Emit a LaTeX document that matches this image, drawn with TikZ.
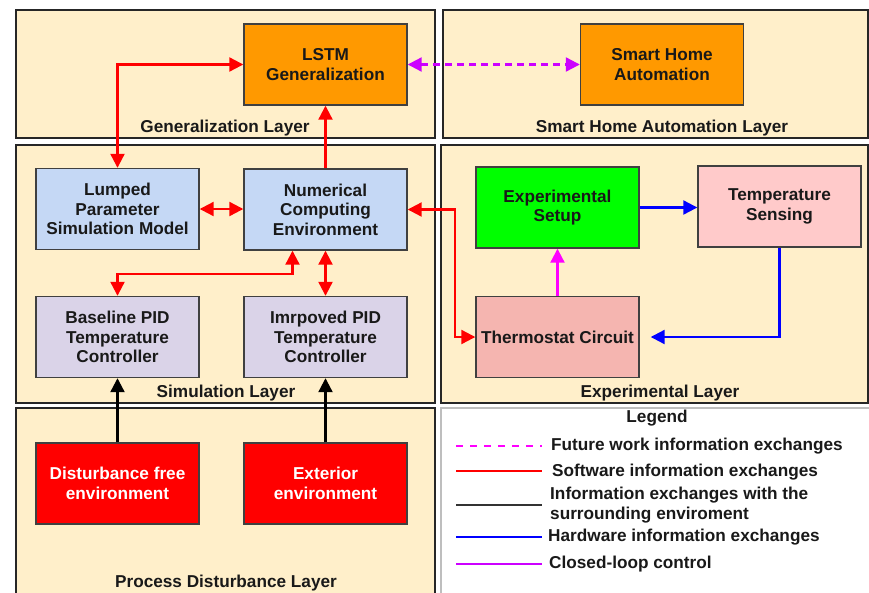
\documentclass[tikz,border=0pt]{standalone}
\usepackage{fontspec}
\setmainfont{Liberation Sans}
\usetikzlibrary{arrows.meta}

\definecolor{layerfill}{RGB}{255,239,202}
\definecolor{orangebox}{RGB}{255,153,0}
\definecolor{bluebox}{RGB}{197,216,245}
\definecolor{lilacbox}{RGB}{218,211,232}
\definecolor{greenbox}{RGB}{0,255,0}
\definecolor{pinkbox}{RGB}{255,202,202}
\definecolor{salmonbox}{RGB}{245,181,176}
\definecolor{redbox}{RGB}{255,0,0}
\definecolor{boxline}{RGB}{64,64,64}
\definecolor{violetline}{RGB}{204,0,255}
\definecolor{magentaline}{RGB}{255,0,255}
\definecolor{legendline}{RGB}{190,190,190}

\begin{document}
\begin{tikzpicture}[x=1pt,y=-1pt,
  txt/.style={font=\bfseries\fontsize{17.2}{19.5}\selectfont, text=black!90},
  layer/.style={draw=black!85, line width=1.8pt, fill=layerfill},
  blk/.style={txt, draw=boxline, line width=1.4pt, minimum width=163pt,
    minimum height=81pt, inner sep=0pt, align=center},
  tip/.style={arrows={-Triangle[length=14pt,width=14pt]}},
  biarrow/.style={arrows={Triangle[length=14pt,width=14pt]-Triangle[length=14pt,width=14pt]}},
  sw/.style={draw=red, line width=2.2pt},
  hw/.style={draw=blue, line width=2.2pt},
  env/.style={draw=black, line width=2.2pt},
  cl/.style={draw=magentaline, line width=2.2pt},
  fut/.style={draw=violetline, line width=2.2pt, dash pattern=on 7pt off 5pt},
  lab/.style={txt, inner sep=0pt},
]
\useasboundingbox (0,0) rectangle (869,592);
\clip (0,0) rectangle (869,592);
\fill[white] (0,0) rectangle (869,592);

% layer panels
\draw[layer] (16,10) rectangle (435,138);
\draw[layer] (443,10) rectangle (868,138);
\draw[layer] (16,145) rectangle (435,403);
\draw[layer] (441,145) rectangle (868,403);
\draw[layer] (16,408) rectangle (435,600);
\draw[draw=legendline, line width=1.2pt, fill=white] (441,408) rectangle (875,600);

% layer titles
\node[lab] (tgen) at (225,128) {Generalization Layer};
\node[lab] (tsha) at (662,128) {Smart Home Automation Layer};
\node[lab] (tsim) at (226,393) {Simulation Layer};
\node[lab] (texp) at (660,393) {Experimental Layer};
\node[lab] (tdis) at (226,583) {Process Disturbance Layer};
\node[lab] (tleg) at (657,418) {Legend};

% blocks
\node[blk, fill=orangebox] (lstm) at (325.5,64.5) {LSTM\\Generalization};
\node[blk, fill=orangebox] (smart) at (662,64.5) {Smart Home\\Automation};
\node[blk, fill=bluebox] (lumped) at (117.5,209) {Lumped\\Parameter\\Simulation Model};
\node[blk, fill=bluebox] (numer) at (325.5,209.5) {Numerical\\Computing\\Environment};
\node[blk, fill=lilacbox] (base) at (117.5,337) {Baseline PID\\Temperature\\Controller};
\node[blk, fill=lilacbox] (impr) at (325.5,337) {Imrpoved PID\\Temperature\\Controller};
\node[blk, fill=greenbox] (expset) at (557.5,207.5) {Experimental\\Setup};
\node[blk, fill=pinkbox] (tsense) at (779.5,206.5) {Temperature\\Sensing};
\node[blk, fill=salmonbox] (thermo) at (557.5,337) {Thermostat Circuit};
\node[blk, fill=redbox, text=white] (dfree) at (117.5,483.5) {Disturbance free\\environment};
\node[blk, fill=redbox, text=white] (ext) at (325.5,483.5) {Exterior\\environment};

% software links
\draw[sw, biarrow] (lumped.north) |- (lstm.west);
\draw[sw, tip] (numer.north) -- (lstm.south);
\draw[sw, biarrow] (lumped.east) -- (lumped.east -| numer.west);
\draw[sw, biarrow] ([xshift=-33pt]numer.south) -- ++(0,23) -| (base.north);
\draw[sw, biarrow] (numer.south) -- (impr.north);
\draw[sw, biarrow] (numer.east) -- ++(47,0) |- (thermo.west);

% future work link
\draw[fut, biarrow] (lstm.east) -- (smart.west);

% hardware links
\draw[hw, tip] (expset.east) -- (expset.east -| tsense.west);
\coordinate (thin) at ([xshift=11pt]thermo.east);
\draw[hw, tip] (tsense.south) |- (thin);

% closed loop
\draw[cl, tip] (thermo.north) -- (expset.south);

% surroundings
\draw[env, tip] (dfree.north) -- (base.south);
\draw[env, tip] (ext.north) -- (impr.south);

% legend
\draw[draw=magentaline, line width=2pt, dash pattern=on 7pt off 7pt] (456,446) -- (542,446);
\draw[draw=red, line width=2pt] (456,471) -- (542,471);
\draw[draw=black!80, line width=2pt] (456,505) -- (542,505);
\draw[draw=blue, line width=2pt] (456,537) -- (542,537);
\draw[draw=violetline, line width=2pt] (456,564) -- (542,564);
\node[lab, anchor=west] (l1) at (551,446) {Future work information exchanges};
\node[lab, anchor=west] (l2) at (552,472) {Software information exchanges};
\node[lab, anchor=west, align=left, font=\bfseries\fontsize{17.2}{20.5}\selectfont] (l3) at (550,505) {Information exchanges with the\\surrounding enviroment};
\node[lab, anchor=west] (l4) at (548,537) {Hardware information exchanges};
\node[lab, anchor=west] (l5) at (549,564) {Closed-loop control};
\end{tikzpicture}
\end{document}
